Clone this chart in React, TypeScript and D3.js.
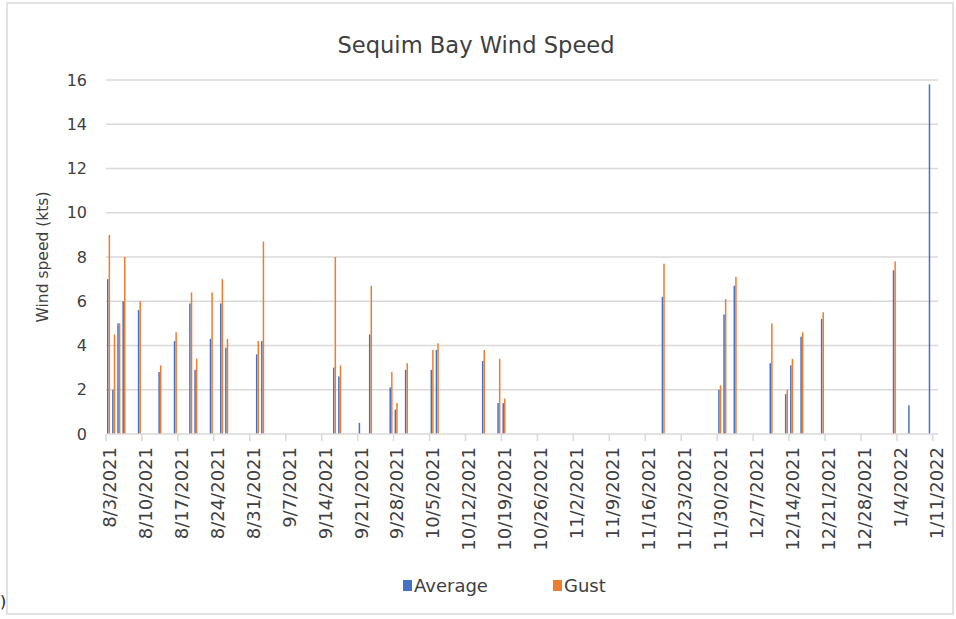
import React from "react";
import * as d3 from "d3";

const dates = [
  "2021-08-03","2021-08-04","2021-08-05","2021-08-06","2021-08-09","2021-08-13","2021-08-16",
  "2021-08-19","2021-08-20","2021-08-23","2021-08-25","2021-08-26","2021-09-01","2021-09-02",
  "2021-09-16","2021-09-17","2021-09-21","2021-09-23","2021-09-27","2021-09-28","2021-09-30",
  "2021-10-05","2021-10-06","2021-10-15","2021-10-18","2021-10-19","2021-11-19","2021-11-30",
  "2021-12-01","2021-12-03","2021-12-10","2021-12-13","2021-12-14","2021-12-16","2021-12-20",
  "2022-01-03","2022-01-06","2022-01-10",
];
const average = [
  7.0, 2.0, 5.0, 6.0, 5.6, 2.8, 4.2,
  5.9, 2.9, 4.3, 5.9, 3.9, 3.6, 4.2,
  3.0, 2.6, 0.5, 4.5, 2.1, 1.1, 2.9,
  2.9, 3.8, 3.3, 1.4, 1.4, 6.2, 2.0,
  5.4, 6.7, 3.2, 1.8, 3.1, 4.4, 5.2,
  7.4, 1.3, 15.8,
];
const gust = [
  9.0, 4.5, 5.0, 8.0, 6.0, 3.1, 4.6,
  6.4, 3.4, 6.4, 7.0, 4.3, 4.2, 8.7,
  8.0, 3.1, 0, 6.7, 2.8, 1.4, 3.2,
  3.8, 4.1, 3.8, 3.4, 1.6, 7.7, 2.2,
  6.1, 7.1, 5.0, 2.0, 3.4, 4.6, 5.5,
  7.8, 0, 0,
];
const yTicks = [0, 2, 4, 6, 8, 10, 12, 14, 16];
const seriesNames = ["Average", "Gust"];
const seriesColors = ["#4472C4", "#ED7D31"];

const W = 956;
const H = 619;
const plotLeft = 106;
const plotRight = 938;
const plotTop = 80;
const plotBottom = 434;
const FONT = "'DejaVu Sans', sans-serif";

export default function App() {
  const parse = d3.utcParse("%Y-%m-%d");
  const start = parse("2021-08-03")!;
  const end = d3.utcDay.offset(parse("2022-01-11")!, 1);
  const x = d3.scaleUtc().domain([start, end]).range([plotLeft, plotRight]);
  const y = d3.scaleLinear().domain([0, 16]).range([plotBottom, plotTop]);
  const dayW = x(d3.utcDay.offset(start, 1)) - x(start);
  const weekTicks = d3.utcDays(start, end, 7);
  const fmt = (d: Date) => `${d.getUTCMonth() + 1}/${d.getUTCDate()}/${d.getUTCFullYear()}`;
  const rows = dates.map((s, i) => ({ d: parse(s)!, a: average[i], g: gust[i] }));
  const barW = 1.5;

  return (
    <svg
      width={W}
      height={H}
      style={{ position: "absolute", left: 0, top: 0, display: "block", background: "#fff" }}
    >
      <rect x={7} y={3} width={946} height={611} fill="#fff" stroke="#d9d9d9" strokeWidth={1.5} />
      <text x={0} y={607} fontFamily={FONT} fontSize={16} fill="#222">)</text>
      <text x={476} y={53} textAnchor="middle" fontFamily={FONT} fontSize={22.6} fill="#404040">
        Sequim Bay Wind Speed
      </text>
      {yTicks.map((t) => (
        <g key={t}>
          {t > 0 && (
            <line x1={plotLeft} x2={plotRight} y1={y(t)} y2={y(t)} stroke="#d9d9d9" strokeWidth={1.5} />
          )}
          <text
            x={87}
            y={y(t)}
            dy="0.35em"
            textAnchor="end"
            fontFamily={FONT}
            fontSize={16}
            fill="#404040"
          >
            {t}
          </text>
        </g>
      ))}
      <text
        transform={`translate(48,${(plotTop + plotBottom) / 2}) rotate(-90)`}
        textAnchor="middle"
        fontFamily={FONT}
        fontSize={15.5}
        fill="#404040"
      >
        Wind speed (kts)
      </text>
      {rows.map((r, i) => {
        const x0 = x(r.d);
        return (
          <g key={i}>
            {r.a > 0 && (
              <rect x={x0 + 1.0} y={y(r.a)} width={barW} height={plotBottom - y(r.a)} fill={seriesColors[0]} />
            )}
            {r.g > 0 && (
              <rect x={x0 + 2.6} y={y(r.g)} width={barW} height={plotBottom - y(r.g)} fill={seriesColors[1]} />
            )}
          </g>
        );
      })}
      <line x1={plotLeft} x2={plotRight} y1={plotBottom} y2={plotBottom} stroke="#d9d9d9" strokeWidth={1.5} />
      {weekTicks.map((t, i) => {
        const tx = x(t);
        return (
          <g key={i}>
            <line x1={tx} x2={tx} y1={plotBottom} y2={plotBottom + 7} stroke="#d9d9d9" strokeWidth={1.5} />
            <text
              transform={`translate(${tx + dayW / 2 + 1},${plotBottom + 13}) rotate(-90)`}
              textAnchor="end"
              dy="0.35em"
              fontFamily={FONT}
              fontSize={18}
              fill="#404040"
            >
              {fmt(t)}
            </text>
          </g>
        );
      })}
      {seriesNames.map((n, i) => {
        const lx = i === 0 ? 403 : 553;
        return (
          <g key={n}>
            <rect x={lx} y={580} width={9} height={11} fill={seriesColors[i]} />
            <text x={lx + 11} y={586} dy="0.35em" fontFamily={FONT} fontSize={18} fill="#404040">
              {n}
            </text>
          </g>
        );
      })}
    </svg>
  );
}
